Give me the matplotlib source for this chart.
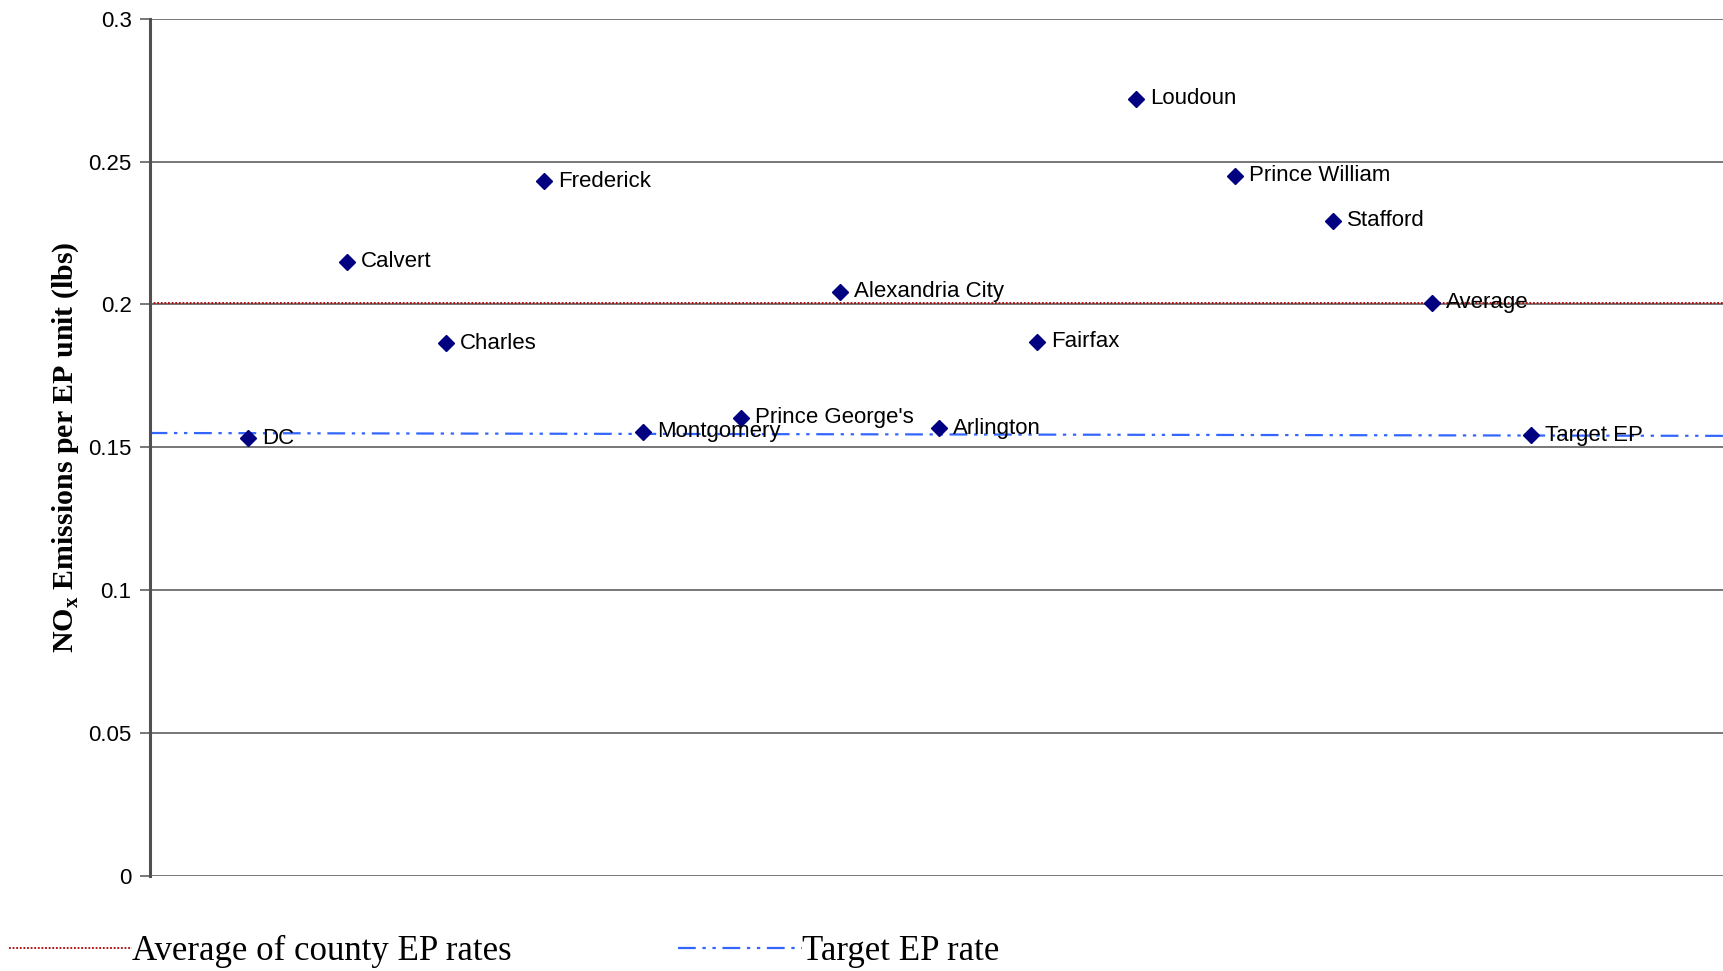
import matplotlib.pyplot as plt
from matplotlib import font_manager
from matplotlib.lines import Line2D

# NOx emissions per EP unit by county
counties = ["DC", "Calvert", "Charles", "Frederick", "Montgomery", "Prince George's",
            "Alexandria City", "Arlington", "Fairfax", "Loudoun", "Prince William",
            "Stafford", "Average", "Target EP"]
nox_rate = [0.1532, 0.2150, 0.1865, 0.2431, 0.1555, 0.1603,
            0.2044, 0.1566, 0.1869, 0.2720, 0.2450, 0.2293, 0.2006, 0.1542]

# reference lines
avg_rate = 0.2006
target_rate = [0.1550, 0.1540]   # left end, right end

y_ticks = [0, 0.05, 0.1, 0.15, 0.2, 0.25, 0.3]
y_tick_labels = ["0", "0.05", "0.1", "0.15", "0.2", "0.25", "0.3"]

installed = {f.name for f in font_manager.fontManager.ttflist}
label_font = "Liberation Sans Narrow" if "Liberation Sans Narrow" in installed else "Liberation Sans"

fig = plt.figure(figsize=(17.23, 9.71), dpi=100)
ax = fig.add_axes([0.0868, 0.098, 0.9132, 0.8827])

x = list(range(1, len(counties) + 1))
ax.set_xlim(0, 15.95)
ax.set_ylim(0, 0.3)

# gridlines
for t in y_ticks:
    ax.axhline(t, color="#606060", lw=1.2, zorder=1)

dotted = (0, (1, 1))
dash_dot_dot = (0, (8, 3, 1.5, 3, 1.5, 3))
ax.axhline(avg_rate, color="#B00000", lw=1.3, ls=dotted, zorder=2)
ax.plot([0, 1], target_rate, transform=ax.get_yaxis_transform(),
        color="#3366FF", lw=1.6, ls=dash_dot_dot, zorder=2)

ax.plot(x, nox_rate, ls="none", marker="D", ms=8, color="#000080", zorder=3)
for xi, yi, name in zip(x, nox_rate, counties):
    ax.annotate(name, (xi, yi), xytext=(10, 0), textcoords="offset points",
                va="center", ha="left", fontsize=16, family=label_font, zorder=4)

ax.set_yticks(y_ticks)
ax.set_yticklabels(y_tick_labels, fontsize=16, family="Liberation Sans")
ax.set_xticks([])
ax.tick_params(axis="y", length=7, width=1.2, color="#606060", pad=6)
for s in ["top", "right", "bottom"]:
    ax.spines[s].set_visible(False)
ax.spines["left"].set_color("#505050")
ax.spines["left"].set_linewidth(2.2)

ax.set_ylabel("NO$_\\mathregular{x}$ Emissions per EP unit (lbs)", family="Liberation Serif",
              fontweight="bold", fontsize=21.5, labelpad=5)

handles = [Line2D([], [], color="#B00000", lw=1.3, ls=dotted),
           Line2D([], [], color="#3366FF", lw=1.6, ls=dash_dot_dot)]
fig.legend(handles, ["Average of county EP rates", "Target EP rate"],
           loc="lower left", bbox_to_anchor=(-0.009, -0.022), ncol=2, frameon=False,
           prop={"family": "Liberation Serif", "size": 25},
           handlelength=3.55, handletextpad=0.0, columnspacing=4.8, borderpad=0.2)

fig.savefig("out.png", dpi=100)
